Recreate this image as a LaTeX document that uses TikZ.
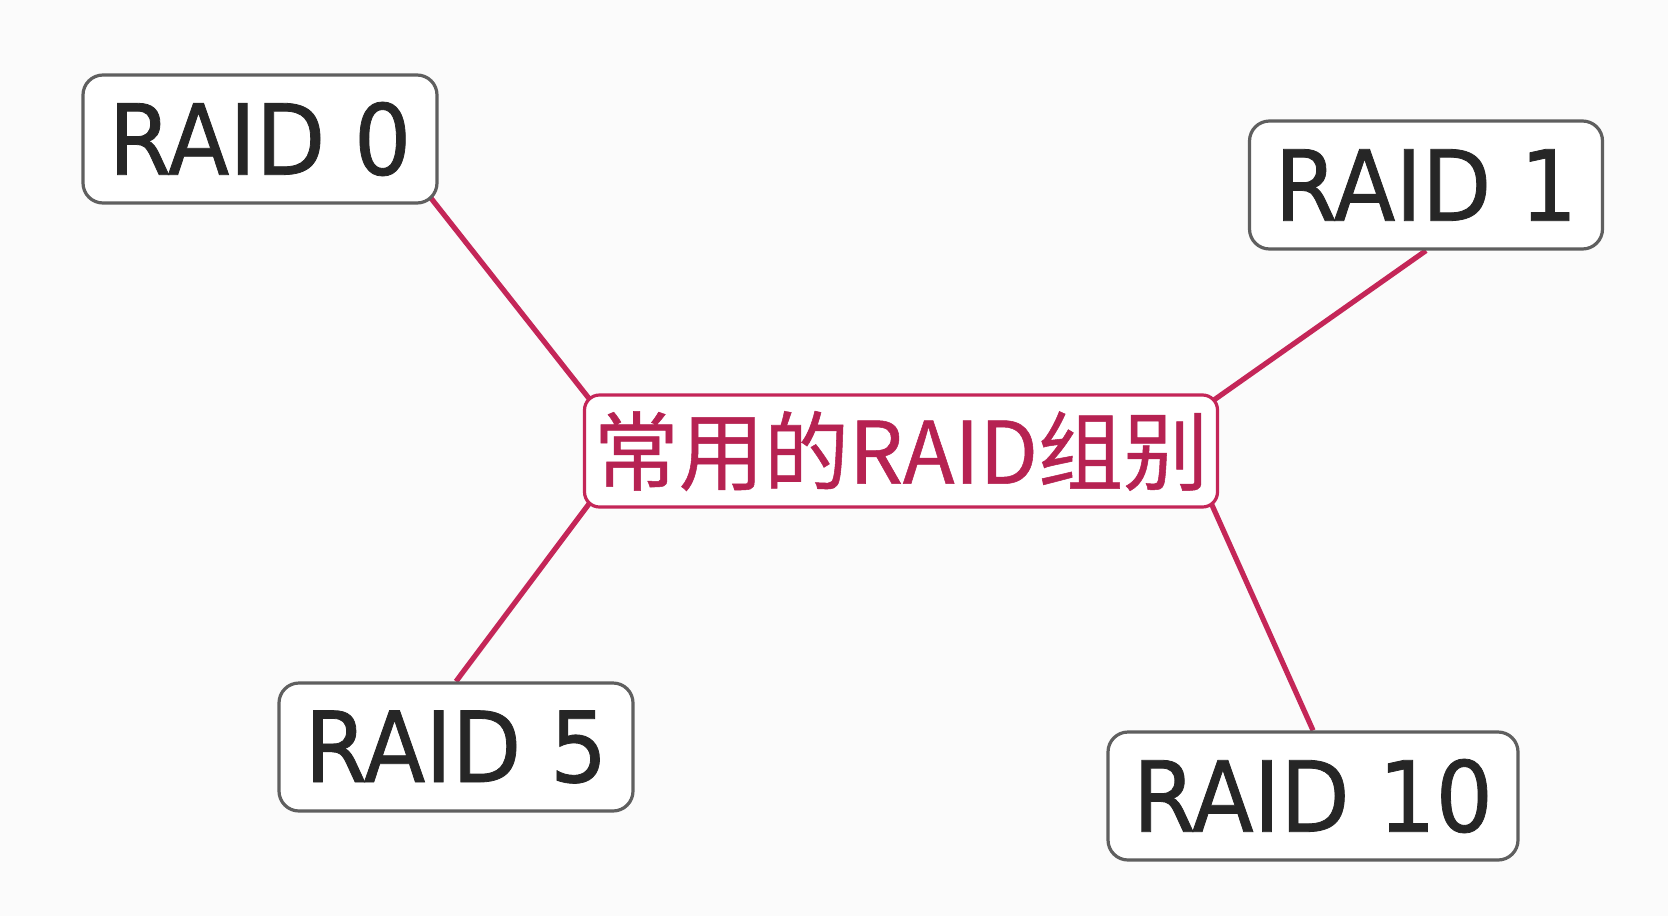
\documentclass[tikz,border=0pt]{standalone}
\usepackage{fontspec}
\usetikzlibrary{calc}
\newfontfamily\latinf[FakeStretch=0.92,FakeBold=0.8]{DejaVu Sans}
\newfontfamily\cjkf[FakeStretch=0.99,FakeBold=0.6]{Noto Sans CJK SC}
\definecolor{crim}{RGB}{196,38,88}
\definecolor{crimtext}{RGB}{182,34,82}
\definecolor{boxgray}{RGB}{95,95,95}
\definecolor{txt}{RGB}{38,38,38}
\definecolor{bgc}{RGB}{251,251,251}
\pgfdeclarelayer{back}
\pgfdeclarelayer{bg}
\pgfsetlayers{back,bg,main}
\begin{document}
\begin{tikzpicture}[x=0.5pt,y=-0.5pt,
  raidbox/.style={draw=boxgray,line width=1.6pt,rounded corners=10pt,fill=white,
    inner sep=0pt,minimum height=64pt,text=txt,font=\latinf\fontsize{49}{55}\selectfont},
  hubbox/.style={draw=crim,line width=1.6pt,rounded corners=7.5pt,fill=white,
    inner sep=0pt,minimum width=316.5pt,minimum height=56pt,text=crimtext,
    font=\cjkf\fontsize{43}{50}\selectfont},
  link/.style={draw=crim,line width=2.6pt}]
\begin{pgfonlayer}{back}
\fill[bgc] (0,0) rectangle (1668,916);
\end{pgfonlayer}
\useasboundingbox (0,0) rectangle (1668,916);
\node[hubbox] (c) at (901,451) {常用的RAID组别};
\node[raidbox,minimum width=177pt] (r0) at (260,139) {RAID 0};
\node[raidbox,minimum width=176.5pt] (r1) at (1426,185) {RAID 1};
\node[raidbox,minimum width=177pt] (r5) at (456,747) {RAID 5};
\node[raidbox,minimum width=205pt] (r10) at (1313,796) {RAID 10};
\begin{pgfonlayer}{bg}
\draw[link] ($(c.north west)+(5pt,-5pt)$) -- ($(r0.south east)+(-6pt,6pt)$);
\draw[link] ($(c.north east)+(-5pt,-5pt)$) -- (r1.south);
\draw[link] ($(c.south west)+(5pt,5pt)$) -- (r5.north);
\draw[link] ($(c.south east)+(-5pt,5pt)$) -- (r10.north);
\end{pgfonlayer}
\end{tikzpicture}
\end{document}
